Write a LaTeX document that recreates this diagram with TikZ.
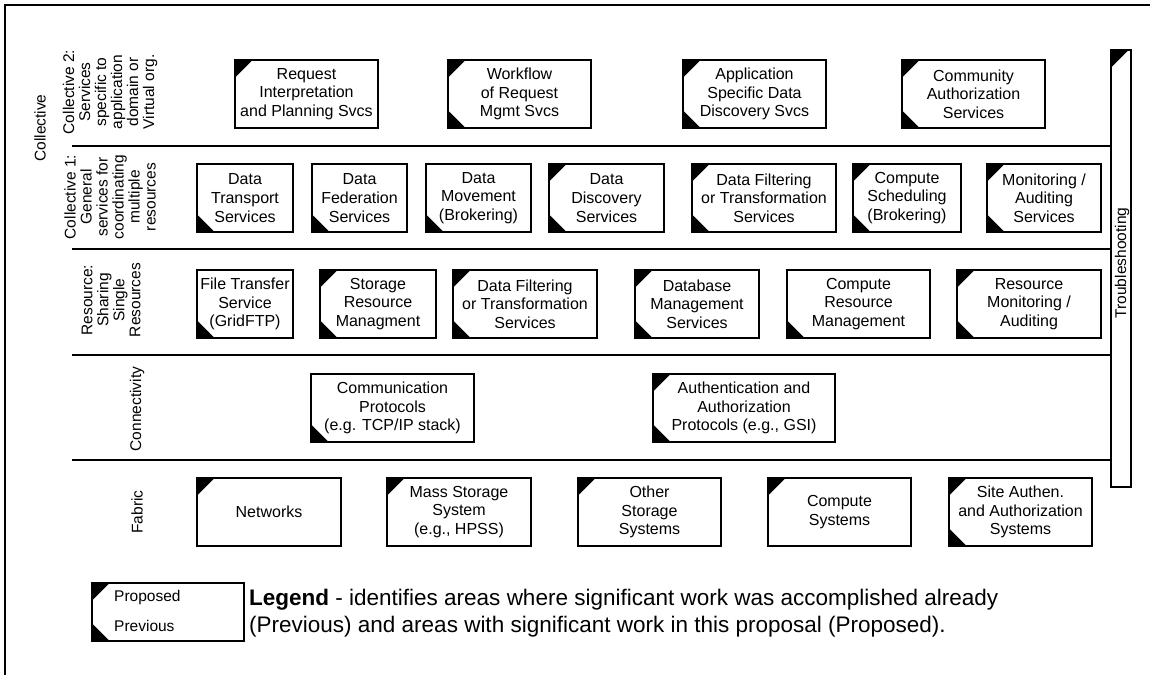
\documentclass[tikz,border=0pt]{standalone}
\usepackage{fontspec}
\setmainfont{Liberation Sans}
\newcommand\bx[6]{\node[box, minimum width={(#4-#2)*1pt}, minimum height={(#5-#3)*1pt}] (#1) at ({(#2+#4)/2},{(#3+#5)/2}) {#6};}
\newcommand\tlt[1]{\fill (#1.north west) -- ++(19,0) -- ++(-19,19) -- cycle;}
\newcommand\blt[1]{\fill (#1.south west) -- ++(0,-19) -- ++(19,19) -- cycle;}
\begin{document}
\begin{tikzpicture}[x=1pt,y=-1pt,
  box/.style={draw, line width=1.3pt, fill=white, align=center, inner sep=0pt, font=\fontsize{16}{18.7}\selectfont},
  lbl/.style={rotate=90, align=center, inner sep=0pt, font=\fontsize{15.5}{16}\selectfont},
  sep/.style={line width=1.3pt},
  frame/.style={line width=2pt}]
\useasboundingbox (0,0) rectangle (1150,675);
% frame
\coordinate (fbl) at (5,675);
\coordinate (ftl) at (5,5);
\coordinate (ftr) at (1150,5);
\draw[frame] (fbl) -- (ftl) -- (ftr);
% troubleshooting bar
\node[draw, line width=1.3pt, minimum width=20pt, minimum height=437pt, inner sep=0pt] (ts) at (1121,268.5) {};
\tlt{ts}
\node[lbl] (tstxt) at (1122,263) {Troubleshooting};
% separators
\foreach \yy/\nm in {146/s1, 249/s2, 355/s3, 460/s4}{
  \coordinate (\nm a) at (72,\yy);
  \coordinate (\nm b) at (1111,\yy);
  \draw[sep] (\nm a) -- (\nm b);
}
% side labels
\node[lbl] (lcol) at (40,128) {Collective};
\node[lbl] (lc2) at (110,92) {Collective 2:\\Services\\specific to\\application\\domain or\\Virtual org.};
\node[lbl] (lc1) at (110,197) {Collective 1:\\General\\services for\\coordinating\\multiple\\resources};
\node[lbl] (lres) at (111,300) {Resource:\\Sharing\\Single\\Resources};
\node[lbl] (lcon) at (137,409) {Connectivity};
\node[lbl] (lfab) at (137,512) {Fabric};
% Collective 2 row
\bx{req}{235}{60}{378}{128}{Request\\Interpretation\\and Planning Svcs}
\bx{wf}{448}{60}{591}{128}{Workflow\\of Request\\Mgmt Svcs}
\bx{app}{683}{60}{826}{128}{Application\\Specific Data\\Discovery Svcs}
\bx{comm}{902}{60}{1045}{128}{Community\\Authorization\\Services}
\tlt{req}
\tlt{wf}\blt{wf}
\tlt{app}\blt{app}
\tlt{comm}\blt{comm}
% Collective 1 row
\bx{dt}{197}{164}{293}{232}{Data\\Transport\\Services}
\bx{df}{312}{164}{407}{232}{Data\\Federation\\Services}
\bx{dm}{426}{164}{531}{232}{Data\\Movement\\(Brokering)}
\bx{dd}{549}{164}{664}{232}{Data\\Discovery\\Services}
\bx{dfil}{692}{164}{836}{232}{Data Filtering\\or Transformation\\Services}
\bx{cs}{853}{164}{961}{232}{Compute\\Scheduling\\(Brokering)}
\bx{mon}{987}{164}{1101}{232}{Monitoring /\\Auditing\\Services}
\blt{dt}
\blt{df}
\blt{dm}
\tlt{dd}\blt{dd}
\tlt{dfil}\blt{dfil}
\tlt{cs}\blt{cs}
\tlt{mon}\blt{mon}
% Resource row
\bx{ft}{197}{270}{293}{338}{File Transfer\\Service\\(GridFTP)}
\bx{srm}{320}{270}{436}{338}{Storage\\Resource\\Managment}
\bx{rfil}{453}{270}{597}{338}{Data Filtering\\or Transformation\\Services}
\bx{db}{635}{270}{759}{338}{Database\\Management\\Services}
\bx{crm}{787}{270}{930}{338}{Compute\\Resource\\Management}
\bx{rmon}{957}{270}{1101}{338}{Resource\\Monitoring /\\Auditing}
\blt{ft}
\tlt{srm}\blt{srm}
\tlt{rfil}\blt{rfil}
\tlt{db}\blt{db}
\blt{crm}
\tlt{rmon}\blt{rmon}
% Connectivity row
\bx{cp}{311}{374}{474}{442}{Communication\\Protocols\\(e.g. TCP/IP stack)}
\bx{ap}{653}{374}{835}{442}{Authentication and\\Authorization\\Protocols (e.g., GSI)}
\blt{cp}
\tlt{ap}\blt{ap}
% Fabric row
\bx{net}{197}{478}{341}{546}{Networks}
\bx{mss}{387}{478}{531}{546}{Mass Storage\\System\\(e.g., HPSS)}
\bx{oss}{578}{478}{721}{546}{Other\\Storage\\Systems}
\bx{csys}{768}{478}{911}{546}{Compute\\Systems}
\bx{site}{949}{478}{1092}{546}{Site Authen.\\and Authorization\\Systems}
\tlt{net}
\tlt{mss}
\tlt{oss}
\tlt{csys}
\tlt{site}\blt{site}
% Legend
\node[draw, line width=1.3pt, minimum width=152pt, minimum height=58pt, inner sep=0pt] (leg) at (168,612) {};
\tlt{leg}\blt{leg}
\node[anchor=west, inner sep=0pt, font=\fontsize{15.5}{17}\selectfont] (lprop) at (114,597) {Proposed};
\node[anchor=west, inner sep=0pt, font=\fontsize{15.5}{17}\selectfont] (lprev) at (114,626) {Previous};
\node[anchor=west, align=left, inner sep=0pt, font=\fontsize{22.5}{27}\selectfont] (legtxt) at (249,613) {\textbf{Legend} - identifies areas where significant work was accomplished already\\(Previous) and areas with significant work in this proposal (Proposed).};
\end{tikzpicture}
\end{document}
